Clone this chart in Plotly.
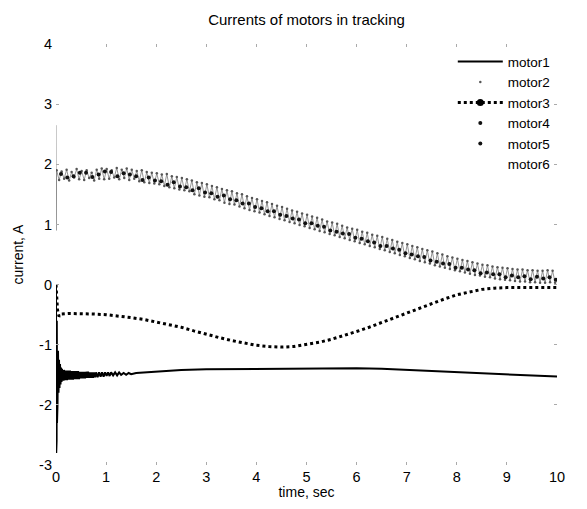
import numpy as np
import plotly.graph_objects as go

# ---------------- data ----------------
# motor1: solid black line (spike at t=0, thick noisy band until ~1.5 s, then smooth)
t1 = [0, 0.004, 0.008, 0.012, 0.016, 0.02, 0.025, 0.03, 0.04, 0.05, 0.06, 0.07, 0.08, 0.09, 0.1, 0.11,
      0.12, 0.13, 0.14, 0.15, 0.16, 0.18, 0.2, 0.22, 0.24, 0.26, 0.28, 0.3, 0.32, 0.34, 0.36, 0.38,
      0.4, 0.42, 0.44, 0.46, 0.48, 0.5, 0.52, 0.54, 0.56, 0.58, 0.6, 0.62, 0.64, 0.66, 0.68, 0.7,
      0.72, 0.74, 0.76, 0.78, 0.8, 0.83, 0.86, 0.89, 0.92, 0.95, 0.98, 1.01, 1.04, 1.07, 1.1, 1.14,
      1.18, 1.22, 1.26, 1.3, 1.35, 1.4, 1.45, 1.5,
      1.6, 2.0, 2.5, 3.0, 4.0, 5.0, 6.0, 6.5, 7.0, 7.5, 8.0, 8.5, 9.0, 9.5, 10.0]
motor1 = [0, -2.8, -0.2, -2.6, -0.6, -2.3, -0.9, -2.0, -1.1, -1.8, -1.25, -1.72, -1.32, -1.66, -1.38, -1.62,
          -1.4, -1.6, -1.42, -1.6, -1.42, -1.59, -1.43, -1.59, -1.43, -1.58, -1.43, -1.58, -1.44, -1.58, -1.44, -1.57,
          -1.44, -1.57, -1.44, -1.57, -1.45, -1.56, -1.45, -1.56, -1.45, -1.56, -1.45, -1.55, -1.45, -1.55, -1.46, -1.55,
          -1.46, -1.55, -1.46, -1.54, -1.46, -1.54, -1.46, -1.53, -1.46, -1.53, -1.46, -1.52, -1.46, -1.52, -1.46, -1.51,
          -1.46, -1.51, -1.46, -1.50, -1.47, -1.50, -1.47, -1.49,
          -1.47, -1.45, -1.42, -1.41, -1.40, -1.39, -1.39, -1.40, -1.42, -1.44, -1.45, -1.47, -1.49, -1.51, -1.53]

# motor2: noisy band (initial spike at t=0, then samples every 0.05 s)
t2_spike = [0.0, 0.002, 0.004, 0.006, 0.008, 0.010]
motor2_spike = [2.65, 0.9, 2.45, 1.15, 2.2, 1.45]
t2 = list(np.round(np.arange(0.012, 10.0001, 0.05), 3))
motor2 = [1.90, 1.74, 1.88, 1.76, 1.91, 1.73, 1.87, 1.78, 1.92, 1.75,
          1.89, 1.74, 1.90, 1.77, 1.86, 1.73, 1.91, 1.76, 1.93, 1.75,
          1.92, 1.76, 1.90, 1.78, 1.94, 1.75, 1.91, 1.77, 1.93, 1.74,
          1.91, 1.76, 1.89, 1.72, 1.90, 1.70, 1.87, 1.69, 1.86, 1.68,
          1.85, 1.67, 1.83, 1.64, 1.84, 1.62, 1.80, 1.60, 1.79, 1.58,
          1.77, 1.57, 1.75, 1.55, 1.73, 1.50, 1.70, 1.48, 1.69, 1.46,
          1.67, 1.45, 1.64, 1.42, 1.62, 1.40, 1.59, 1.36, 1.57, 1.34,
          1.55, 1.33, 1.52, 1.30, 1.50, 1.27, 1.47, 1.24, 1.44, 1.22,
          1.42, 1.20, 1.39, 1.17, 1.37, 1.14, 1.34, 1.12, 1.31, 1.09,
          1.29, 1.07, 1.26, 1.04, 1.23, 1.02, 1.21, 0.99, 1.18, 0.97,
          1.16, 0.94, 1.13, 0.92, 1.11, 0.89, 1.08, 0.87, 1.05, 0.84,
          1.03, 0.82, 1.01, 0.79, 0.98, 0.77, 0.95, 0.74, 0.93, 0.72,
          0.91, 0.69, 0.88, 0.67, 0.86, 0.64, 0.83, 0.62, 0.81, 0.59,
          0.79, 0.57, 0.76, 0.54, 0.74, 0.52, 0.71, 0.49, 0.69, 0.47,
          0.67, 0.44, 0.64, 0.42, 0.62, 0.39, 0.59, 0.37, 0.57, 0.35,
          0.55, 0.32, 0.52, 0.30, 0.50, 0.28, 0.47, 0.26, 0.45, 0.24,
          0.43, 0.22, 0.41, 0.20, 0.39, 0.18, 0.37, 0.16, 0.35, 0.15,
          0.33, 0.13, 0.32, 0.12, 0.30, 0.10, 0.29, 0.09, 0.28, 0.08,
          0.27, 0.07, 0.26, 0.06, 0.25, 0.05, 0.25, 0.05, 0.24, 0.04,
          0.24, 0.04, 0.23, 0.03, 0.23, 0.03, 0.24, 0.04, 0.23, 0.03]

# motor3: dotted line
t3 = [0, 0.03, 0.06, 0.1, 0.25, 0.5, 0.75, 1.0, 1.25, 1.5, 1.75, 2.0, 2.25, 2.5, 2.75, 3.0,
      3.25, 3.5, 3.75, 4.0, 4.25, 4.5, 4.75, 5.0, 5.25, 5.5, 5.75, 6.0, 6.25, 6.5, 6.75,
      7.0, 7.25, 7.5, 7.75, 8.0, 8.25, 8.5, 8.75, 9.0, 9.5, 10.0]
motor3 = [0.0, -0.42, -0.53, -0.49, -0.48, -0.48, -0.49, -0.50, -0.52, -0.55, -0.58, -0.62, -0.66, -0.71, -0.77, -0.83,
          -0.88, -0.93, -0.97, -1.01, -1.03, -1.04, -1.03, -1.00, -0.96, -0.91, -0.85, -0.78, -0.71, -0.63, -0.55,
          -0.47, -0.39, -0.31, -0.24, -0.17, -0.12, -0.08, -0.06, -0.05, -0.05, -0.05]

# motor4 / motor5: darker points inside the noisy band
t4 = list(np.round(np.arange(0.1, 9.86, 0.25), 3))
motor4 = [1.84, 1.80, 1.86, 1.83, 1.87, 1.85, 1.80, 1.78, 1.72, 1.70, 1.62, 1.60, 1.52, 1.48, 1.40, 1.35,
          1.27, 1.22, 1.14, 1.08, 1.02, 0.96, 0.88, 0.84, 0.76, 0.70, 0.64, 0.58, 0.50, 0.46, 0.38, 0.34,
          0.28, 0.24, 0.20, 0.17, 0.15, 0.14, 0.13, 0.12]
t5 = list(np.round(np.arange(0.225, 9.98, 0.25), 3))
motor5 = [1.78, 1.86, 1.79, 1.88, 1.80, 1.83, 1.74, 1.73, 1.66, 1.63, 1.57, 1.53, 1.46, 1.42, 1.35, 1.29,
          1.22, 1.16, 1.10, 1.02, 0.98, 0.90, 0.85, 0.78, 0.72, 0.64, 0.60, 0.52, 0.47, 0.40, 0.35, 0.28,
          0.25, 0.19, 0.17, 0.12, 0.12, 0.09, 0.10, 0.08]

# motor6: practically invisible in the print
t6 = [0, 2, 4, 6, 8, 10]
motor6 = [0, 0, 0, 0, 0, 0]

x_ticks = [0, 1, 2, 3, 4, 5, 6, 7, 8, 9, 10]
y_ticks = [-3, -2, -1, 0, 1, 2, 3, 4]

# ---------------- figure ----------------
FONT = "Liberation Sans, Arial, sans-serif"
fig = go.Figure()

# motor6 (white, drawn first)
fig.add_trace(go.Scatter(x=t6, y=motor6, mode="markers", name="motor6",
                         marker=dict(color="white", size=3), legendrank=6))

# motor2 band: thin zig-zag strokes + legend dot
fig.add_trace(go.Scatter(x=t2_spike + t2, y=motor2_spike + motor2, mode="lines",
                         line=dict(color="#7a7a7a", width=0.8), showlegend=False,
                         legendgroup="m2", hoverinfo="skip"))
fig.add_trace(go.Scatter(x=t2, y=motor2, mode="markers", name="motor2", legendgroup="m2",
                         marker=dict(color="#555", size=2.5), legendrank=2))

fig.add_trace(go.Scatter(x=t4, y=motor4, mode="markers", name="motor4",
                         marker=dict(color="#111", size=4), legendrank=4))
fig.add_trace(go.Scatter(x=t5, y=motor5, mode="markers", name="motor5",
                         marker=dict(color="#111", size=4), legendrank=5))

# motor3 dotted line (legend entry with big dot)
fig.add_trace(go.Scatter(x=t3, y=motor3, mode="lines", line=dict(color="black", width=3, dash="dot"),
                         showlegend=False, legendgroup="m3"))
fig.add_trace(go.Scatter(x=[None], y=[None], mode="lines+markers", name="motor3", legendgroup="m3",
                         line=dict(color="black", width=3, dash="dot"),
                         marker=dict(color="black", size=7), legendrank=3))

# motor1 solid line
fig.add_trace(go.Scatter(x=t1, y=motor1, mode="lines", name="motor1",
                         line=dict(color="black", width=2), legendrank=1))

fig.update_layout(
    width=587, height=509,
    margin=dict(l=56, r=30, t=44, b=41),
    paper_bgcolor="white", plot_bgcolor="white",
    font=dict(family=FONT, size=14, color="black"),
    title=dict(text="Currents of motors in tracking", x=0.5, xref="paper", xanchor="center",
               y=1 - 20 / 509, yref="container", yanchor="middle",
               font=dict(family=FONT, size=15, color="black")),
    showlegend=True,
    legend=dict(x=0.792, y=0.995, xanchor="left", yanchor="top", bgcolor="rgba(0,0,0,0)",
                borderwidth=0, itemwidth=45, font=dict(family=FONT, size=13.5, color="black"),
                tracegroupgap=0, traceorder="normal"),
)
fig.update_xaxes(range=[0, 10], tickvals=x_ticks, ticktext=[str(v) for v in x_ticks],
                 showgrid=False, zeroline=False, showline=False,
                 ticks="inside", ticklen=3, tickcolor="#aaa", mirror="ticks",
                 ticklabelstandoff=1, tickfont=dict(size=14.5),
                 title=dict(text="time, sec", standoff=3, font=dict(family=FONT, size=14)))
fig.update_yaxes(range=[-3, 4], tickvals=y_ticks, ticktext=[str(v) for v in y_ticks],
                 showgrid=False, zeroline=False, showline=False,
                 ticks="inside", ticklen=3, tickcolor="#aaa", mirror="ticks",
                 ticklabelstandoff=3, tickfont=dict(size=14.5),
                 title=dict(text="current, A", standoff=12, font=dict(family=FONT, size=14)))

fig.write_html("out.html")
